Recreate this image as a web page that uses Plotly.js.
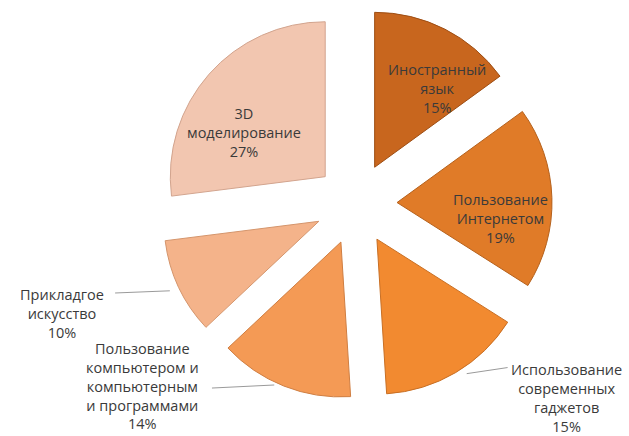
<!DOCTYPE html>
<html><head><meta charset="utf-8">
<script src="https://cdn.plot.ly/plotly-3.0.1.min.js"></script>
<style>html,body{margin:0;padding:0;background:#fff}#chart{width:629px;height:436px}</style>
</head><body><div id="chart"></div>
<script>
const categories = ["Иностранный<br>язык", "Пользование<br>Интернетом", "Использование<br>современных<br>гаджетов", "Пользование<br>компьютером и<br>компьютерным<br>и программами", "Прикладгое<br>искусство", "3D<br>моделирование"];
const values = [15, 19, 15, 14, 10, 27];
const colors = ["#C8661E", "#E07B28", "#F28A30", "#F49A55", "#F4B38A", "#F2C6B0"];
const rims = ["#9E4E14", "#B5611C", "#C86F24", "#CF7E42", "#D4956C", "#D2A48E"];

const total = values.reduce((a, b) => a + b, 0);
const pct = values.map(v => Math.round(v / total * 100) + '%');

const textFont = {family: 'Open Sans, sans-serif', size: 14.5, color: '#3a3a3a'};

const trace = {
  type: 'pie',
  values: values,
  labels: categories,
  textinfo: 'none',
  sort: false,
  direction: 'clockwise',
  rotation: 0,
  pull: values.map(() => 0.265),
  marker: {colors: colors, line: {color: rims, width: 1}},
  domain: {x: [0.254, 0.878], y: [0.083, 0.982]},
  showlegend: false,
  hoverinfo: 'label+percent'
};

// label text block centres (paper coords), in category order
const labelPos = [[0.695, 0.798], [0.795, 0.498], [0.901, 0.088], [0.227, 0.115], [0.099, 0.282], [0.388, 0.695]];
const leaders = [
  [[0.183, 0.328], [0.270, 0.333]],
  [[0.337, 0.110], [0.436, 0.117]],
  [[0.807, 0.157], [0.742, 0.143]]
];

const annotations = categories.map((c, i) => ({
  xref: 'paper', yref: 'paper', x: labelPos[i][0], y: labelPos[i][1],
  text: c + '<br>' + pct[i], showarrow: false,
  font: textFont, align: 'center', xanchor: 'center', yanchor: 'middle'
}));
const shapes = leaders.map(l => ({
  type: 'line', xref: 'paper', yref: 'paper',
  x0: l[0][0], y0: l[0][1], x1: l[1][0], y1: l[1][1],
  line: {color: '#9a9a9a', width: 1}
}));

Plotly.newPlot('chart', [trace], {
  width: 629, height: 436,
  margin: {l: 0, r: 0, t: 0, b: 0},
  paper_bgcolor: '#fff',
  annotations: annotations,
  shapes: shapes
}, {displayModeBar: false, staticPlot: true});
</script></body></html>
